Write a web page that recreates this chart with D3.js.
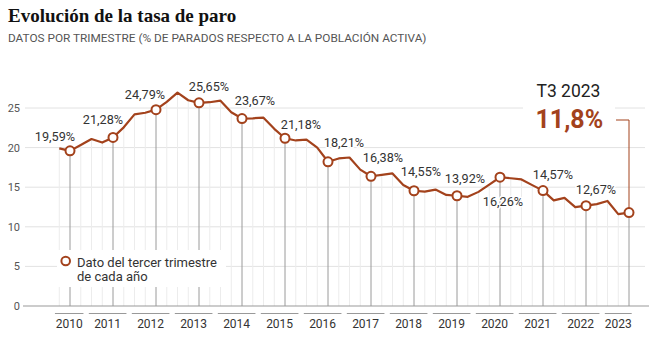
<!DOCTYPE html>
<html>
<head>
<meta charset="utf-8">
<script src="https://cdn.jsdelivr.net/npm/d3@7"></script>
<style>
  body { margin: 0; background: #fff; }
  svg { display: block; font-family: Roboto, "Noto Sans", sans-serif; }
</style>
</head>
<body>
<svg width="649" height="341"></svg>
<script>
// Tasa de paro trimestral (EPA), desde el T2 de 2010 hasta el T3 de 2023
var startYear = 2010, startQuarter = 2;
var rates = [
  19.9, 19.59, 20.33,
  21.08, 20.64, 21.28, 22.56,
  24.19, 24.40, 24.79, 25.77,
  26.94, 25.98, 25.65, 25.73,
  25.93, 24.47, 23.67, 23.70,
  23.78, 22.37, 21.18, 20.90,
  21.00, 20.00, 18.21, 18.63,
  18.75, 17.22, 16.38, 16.55,
  16.74, 15.28, 14.55, 14.45,
  14.70, 14.02, 13.92, 13.78,
  14.41, 15.33, 16.26, 16.13,
  15.98, 15.26, 14.57, 13.33,
  13.65, 12.48, 12.67, 12.87,
  13.26, 11.60, 11.8
];
var years = d3.range(2010, 2024);
var yTicks = [0, 5, 10, 15, 20, 25];

var rust = "#a3421c";

// where each year's label sits relative to its T3 dot
var labelNudge = {
  2010: [-15, -10], 2011: [-10, -13], 2012: [-11, -11], 2013: [10, -12],
  2014: [13, -14], 2015: [16, -9], 2016: [16, -15], 2017: [12, -14],
  2018: [7, -15], 2019: [8, -12.5], 2020: [3, 29], 2021: [10, -12], 2022: [10, -12]
};

var svg = d3.select("svg");

var data = rates.map(function(v, i) {
  var q = i + (startQuarter - 1);          // quarters since T1 2010
  return { idx: q, year: startYear + Math.floor(q / 4), quarter: q % 4 + 1, value: v };
});
var last = data[data.length - 1];

var x = d3.scaleLinear().domain([0, 54]).range([48.5, 629]);
var y = d3.scaleLinear().domain([0, 25]).range([306, 108]);

var fmt = function(v) { return d3.format(".2f")(v).replace(".", ",") + "%"; };

// title
svg.append("text").attr("x", 8).attr("y", 22)
  .style("font-family", "'Liberation Serif', serif").style("font-weight", "bold")
  .style("font-size", "19px").attr("fill", "#111")
  .text("Evolución de la tasa de paro");
svg.append("text").attr("x", 8).attr("y", 41.5)
  .style("font-size", "11.8px").attr("fill", "#555")
  .text("DATOS POR TRIMESTRE (% DE PARADOS RESPECTO A LA POBLACIÓN ACTIVA)");

// horizontal grid
svg.append("g").selectAll("line").data(yTicks.filter(function(d) { return d > 0; }))
  .enter().append("line")
    .attr("x1", 25).attr("x2", 645)
    .attr("y1", function(d) { return y(d); }).attr("y2", function(d) { return y(d); })
    .attr("stroke", "#e2e2e2");

svg.append("g").selectAll("text").data(yTicks)
  .enter().append("text")
    .attr("x", 20).attr("y", function(d) { return y(d) + 4; })
    .attr("text-anchor", "end")
    .style("font-size", "11px").attr("fill", "#555")
    .text(function(d) { return d; });

// thin drop lines for every quarter, darker for T3
svg.append("g").selectAll("line").data(data.filter(function(d) { return d.quarter !== 3; }))
  .enter().append("line")
    .attr("x1", function(d) { return x(d.idx); }).attr("x2", function(d) { return x(d.idx); })
    .attr("y1", function(d) { return y(d.value); }).attr("y2", y(0))
    .attr("stroke", "#ececec");

var t3 = data.filter(function(d) { return d.quarter === 3; });

svg.append("g").selectAll("line").data(t3)
  .enter().append("line")
    .attr("x1", function(d) { return x(d.idx); }).attr("x2", function(d) { return x(d.idx); })
    .attr("y1", function(d) { return y(d.value); }).attr("y2", y(0))
    .attr("stroke", "#9a9a9a");

// baseline
svg.append("line").attr("x1", 23).attr("x2", 649).attr("y1", y(0)).attr("y2", y(0))
  .attr("stroke", "#999");

// year bands under the axis
var bands = years.map(function(yr) {
  var k = (yr - startYear) * 4;
  var a = x(Math.max(k - 0.25, 0.6)), b = x(Math.min(k + 3.25, 54.25));
  return { year: yr, a: a, b: b };
});
var xAxis = svg.append("g");
xAxis.selectAll("line").data(bands).enter().append("line")
  .attr("x1", function(d) { return d.a; }).attr("x2", function(d) { return d.b; })
  .attr("y1", 313.5).attr("y2", 313.5).attr("stroke", "#999");
xAxis.selectAll("text").data(bands).enter().append("text")
  .attr("x", function(d) { return (d.a + d.b) / 2; }).attr("y", 327.5)
  .attr("text-anchor", "middle")
  .style("font-size", "12px").attr("fill", "#333")
  .text(function(d) { return d.year; });

// legend
var legend = svg.append("g");
legend.append("rect").attr("x", 57).attr("y", 250).attr("width", 169).attr("height", 37).attr("fill", "#fff");
legend.append("circle").attr("cx", 65.7).attr("cy", 261).attr("r", 4.3)
  .attr("fill", "#fff").attr("stroke", rust).attr("stroke-width", 2);
legend.append("text").attr("x", 77).attr("y", 266.5)
  .style("font-size", "13px").attr("fill", "#333")
  .text("Dato del tercer trimestre");
legend.append("text").attr("x", 77).attr("y", 280.5)
  .style("font-size", "13px").attr("fill", "#333")
  .text("de cada año");

// highlight for the latest quarter
var note = svg.append("g");
note.append("rect").attr("x", 523).attr("y", 80).attr("width", 92).attr("height", 55).attr("fill", "#fff");
note.append("text").attr("x", 536.5).attr("y", 96.7)
  .style("font-size", "17.5px").attr("fill", "#222")
  .text("T" + last.quarter + " " + last.year);
note.append("text").attr("x", 535.5).attr("y", 128.3)
  .style("font-size", "25px").style("font-weight", "bold").attr("fill", rust)
  .text(String(last.value).replace(".", ",") + "%");
note.append("path")
  .attr("d", "M616," + 120 + "H" + x(last.idx) + "V" + (y(last.value) - 4.5))
  .attr("fill", "none").attr("stroke", rust).attr("stroke-width", 1);

// series
var line = d3.line()
  .x(function(d) { return x(d.idx); })
  .y(function(d) { return y(d.value); });

svg.append("path").datum(data)
  .attr("d", line)
  .attr("fill", "none").attr("stroke", rust).attr("stroke-width", 2.2)
  .attr("stroke-linejoin", "round");

svg.append("g").selectAll("circle").data(t3)
  .enter().append("circle")
    .attr("cx", function(d) { return x(d.idx); })
    .attr("cy", function(d) { return y(d.value); })
    .attr("r", 4.5)
    .attr("fill", "#fff").attr("stroke", rust).attr("stroke-width", 2);

svg.append("g").selectAll("text").data(t3.filter(function(d) { return labelNudge[d.year]; }))
  .enter().append("text")
    .attr("x", function(d) { return x(d.idx) + labelNudge[d.year][0]; })
    .attr("y", function(d) { return y(d.value) + labelNudge[d.year][1]; })
    .attr("text-anchor", "middle")
    .style("font-size", "12.7px").attr("fill", "#333")
    .attr("stroke", "#fff").attr("stroke-width", 3).attr("paint-order", "stroke")
    .text(function(d) { return fmt(d.value); });
</script>
</body>
</html>
